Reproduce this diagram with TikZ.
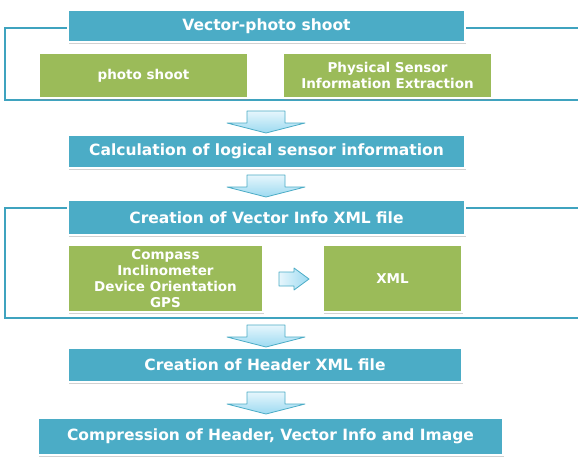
\documentclass[tikz,border=0pt]{standalone}
\usepackage{fontspec}
\setmainfont{DejaVu Sans}
\usetikzlibrary{shadows}
\definecolor{boxblue}{HTML}{4BACC6}
\definecolor{framblue}{HTML}{3FA3BF}
\definecolor{boxgreen}{HTML}{9BBB59}
\definecolor{arrtop}{HTML}{E6F6FC}
\definecolor{arrbot}{HTML}{9CDAF1}
\tikzset{
  x=1pt, y=-1pt,
  bluebox/.style={fill=boxblue, draw=white, line width=2.5pt, inner sep=0pt,
    text=white, font=\bfseries\fontsize{15.5}{17}\selectfont,
    drop shadow={shadow xshift=1.2pt, shadow yshift=-1.8pt, fill=black!45, opacity=.4}},
  greenbox/.style={fill=boxgreen, draw=white, line width=2.5pt, inner sep=0pt,
    text=white, align=center, font=\bfseries\fontsize{13.5}{16}\selectfont,
    drop shadow={shadow xshift=1.2pt, shadow yshift=-1.8pt, fill=black!45, opacity=.4}},
  frameline/.style={draw=framblue, line width=2pt},
  blockarrow/.style={draw=boxblue, line width=0.8pt, line join=round,
    top color=arrtop, bottom color=arrbot},
  darr/.pic={\path[blockarrow] (-19,0) -- (19,0) -- (19,12) -- (39,12) -- (0,22) -- (-39,12) -- (-19,12) -- cycle;},
  rarr/.pic={\path[blockarrow, left color=arrtop, right color=arrbot] (0,-7) -- (15,-7) -- (15,-11) -- (30,0) -- (15,11) -- (15,7) -- (0,7) -- cycle;}
}
\begin{document}
\begin{tikzpicture}
\useasboundingbox (0,0) rectangle (578,460);
\fill[white] (0,0) rectangle (578,460);
% frames
\draw[frameline] (620,28) -- (5,28) -- (5,100) -- (620,100);
\draw[frameline] (620,208) -- (5,208) -- (5,318) -- (620,318);
% blue boxes
\node[bluebox, minimum width=397, minimum height=32] (b1) at (266.5,26) {Vector-photo shoot};
\node[bluebox, minimum width=397, minimum height=33] (b2) at (266.5,151.5) {Calculation of logical sensor information};
\node[bluebox, minimum width=397, minimum height=35] (b3) at (266.5,217.5) {Creation of Vector Info XML file};
\node[bluebox, minimum width=394, minimum height=34] (b4) at (265,365) {Creation of Header XML file};
\node[bluebox, minimum width=465, minimum height=37] (b5) at (270.5,436.5) {Compression of Header, Vector Info and Image};
% green boxes
\node[greenbox, minimum width=209, minimum height=45] (g1) at (143.5,75.5) {photo shoot};
\node[greenbox, minimum width=209, minimum height=45] (g2) at (387.5,75.5) {Physical Sensor\\Information Extraction};
\node[greenbox, minimum width=195, minimum height=67] (g3) at (165.5,278.5) {Compass\\Inclinometer\\Device Orientation\\GPS};
\node[greenbox, minimum width=139, minimum height=67] (g4) at (392.5,278.5) {XML};
% block arrows
\pic at (266,111) {darr};
\pic at (266,175) {darr};
\pic at (266,325) {darr};
\pic at (266,392) {darr};
\pic at (279,279) {rarr};
\end{tikzpicture}
\end{document}
